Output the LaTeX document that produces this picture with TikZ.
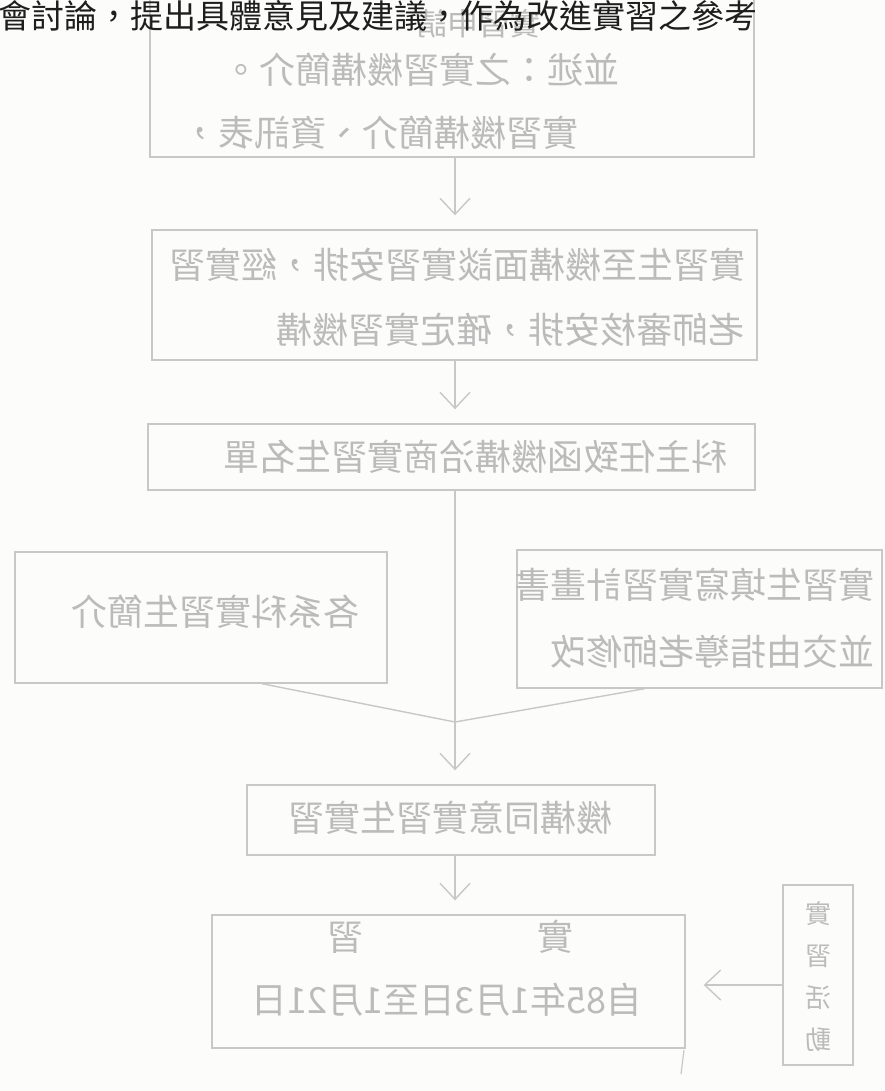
\documentclass[tikz,border=0pt]{standalone}
\usepackage{fontspec}
\usepackage{graphicx}
\newfontfamily\cjk{Noto Sans CJK TC}
\usetikzlibrary{arrows.meta}
\definecolor{paper}{HTML}{FCFCFA}
\definecolor{boxline}{HTML}{C8C8C8}
\definecolor{faint}{HTML}{BBBBBB}
\definecolor{ink}{HTML}{1E1E1E}
\tikzset{
  flowbox/.style={draw=boxline, line width=1.4pt, inner sep=0pt},
  ftxt/.style={text=faint, inner sep=0pt, font=\cjk\fontsize{36}{40}\selectfont},
  stxt/.style={text=faint, inner sep=0pt, align=center, font=\cjk\fontsize{26}{42}\selectfont},
  link/.style={draw=boxline, line width=1.4pt},
  arr/.style={draw=boxline, line width=1.4pt, -{Straight Barb[length=16pt,width=30pt,line width=1.4pt]}, shorten >=14pt}
}
\begin{document}
\begin{tikzpicture}[x=1pt,y=-1pt]
\useasboundingbox (0,0) rectangle (884,1091);
\fill[paper] (0,0) rectangle (884,1091);
\begin{scope}
\clip (0,0) rectangle (884,1091);
% boxes
\node[flowbox, minimum width=604pt, minimum height=197pt] (B1) at (452,58.5) {};
\node[flowbox, minimum width=605pt, minimum height=130pt] (B2) at (454.5,295) {};
\node[flowbox, minimum width=607pt, minimum height=66pt] (B3) at (451.5,457) {};
\node[flowbox, minimum width=372pt, minimum height=131pt] (B4L) at (201,617.5) {};
\node[flowbox, minimum width=365pt, minimum height=138pt] (B4R) at (699.5,619) {};
\node[flowbox, minimum width=408pt, minimum height=70pt] (B5) at (451,820) {};
\node[flowbox, minimum width=473pt, minimum height=133pt] (B6) at (448.5,981.5) {};
\node[flowbox, minimum width=70pt, minimum height=180pt] (BS) at (818,975) {};
% texts (show-through, mirrored)
\node[ftxt, font=\cjk\fontsize{31}{34}\selectfont] (b1a) at (478,24) {\reflectbox{實習申請}};
\node[ftxt] (b1b) at (421,70) {\reflectbox{並述：之實習機構簡介。}};
\node[ftxt] (b1c) at (380,133) {\reflectbox{實習機構簡介、資訊表，}};
\node[ftxt] (b2a) at (457,265) {\reflectbox{實習生至機構面談實習安排，經實習}};
\node[ftxt, anchor=east] (b2b) at (745,330) {\reflectbox{老師審核安排，確定實習機構}};
\node[ftxt] (b3) at (475,457) {\reflectbox{科主任致函機構洽商實習生名單}};
\node[ftxt] (b4l) at (215,612) {\reflectbox{各系科實習生簡介}};
\node[ftxt, anchor=east] (b4ra) at (875,585) {\reflectbox{實習生填寫實習計畫書}};
\node[ftxt, anchor=east] (b4rb) at (875,652) {\reflectbox{並交由指導老師修改}};
\node[ftxt] (b5) at (450,818) {\reflectbox{機構同意實習生實習}};
\node[ftxt] (b6a) at (450,937) {\reflectbox{實\hspace{174pt}習}};
\node[ftxt] (b6b) at (447,1000) {\reflectbox{自85年1月3日至1月21日}};
\node[stxt] (bs) at (818,977) {\reflectbox{實}\\\reflectbox{習}\\\reflectbox{活}\\\reflectbox{動}};
% top dark text line
\node[anchor=north west, inner sep=0pt, text=ink, font=\cjk\fontsize{33}{33}\selectfont] (top) at (-2,0.5) {會討論，提出具體意見及建議，作為改進實習之參考};
% connectors
\coordinate (col) at (455,0);
\coordinate (J) at (455,722);
\draw[arr] (B1.south -| col) -- (B2.north -| col);
\draw[arr] (B2.south -| col) -- (B3.north -| col);
\draw[link] (B3.south -| col) -- (J);
\draw[link] ([xshift=61pt]B4L.south) -- (J);
\draw[link] ([xshift=-55pt]B4R.south) -- (J);
\draw[arr] (J) -- (B5.north -| col);
\draw[arr] (B5.south -| col) -- (B6.north -| col);
\draw[arr, shorten >=18pt] ([yshift=-10pt]BS.west) -- ([yshift=-10pt]BS.west -| B6.east);
% stray pen mark
\draw[boxline, line width=1.2pt] (684,1050) -- (681,1074);
\end{scope}
\end{tikzpicture}
\end{document}
